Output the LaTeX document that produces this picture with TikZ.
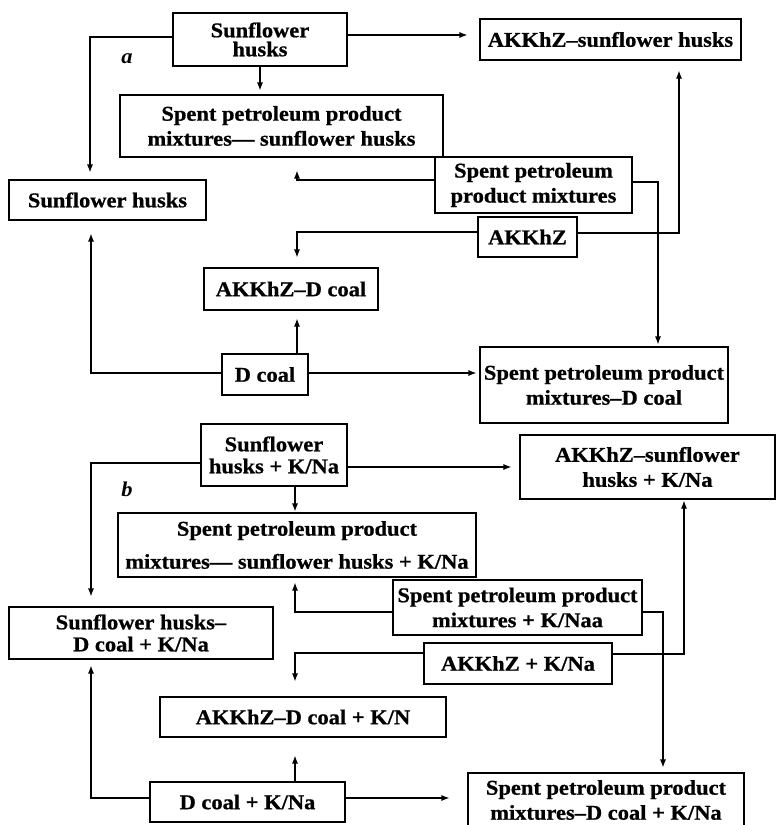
\documentclass[tikz,border=0pt]{standalone}
\usepackage{fontspec}
\setmainfont{Liberation Serif}[FakeStretch=1.07, BoldFeatures={FakeBold=0.8}]
\usetikzlibrary{arrows.meta}
\begin{document}
\begin{tikzpicture}[x=1pt,y=-1pt,
  box/.style={draw, line width=1.1pt, inner sep=0pt, align=center,
    font=\fontsize{21}{25}\selectfont\bfseries},
  tight/.style={font=\fontsize{21}{19}\selectfont\bfseries},
  mid/.style={font=\fontsize{21}{22}\selectfont\bfseries},
  loose/.style={font=\fontsize{21}{33}\selectfont\bfseries},
  arr/.style={line width=1.1pt, -{Latex[length=8pt,width=6pt]}},
  tag/.style={font=\fontsize{21}{24}\selectfont\bfseries\itshape},
]
\useasboundingbox (0,0) rectangle (779,825);

% ---------------- scheme a ----------------
\node[box, tight, minimum width=174pt, minimum height=53pt] (sh) at (260,39.5) {Sunflower\\husks};
\node[box, minimum width=261pt, minimum height=41pt] (akshusk) at (610.5,39.5) {AKKhZ–sunflower husks};
\node[box, minimum width=323pt, minimum height=62pt] (spsh) at (281.5,126) {Spent petroleum product\\mixtures— sunflower husks};
\node[box, minimum width=197pt, minimum height=40pt] (shl) at (107.5,200) {Sunflower husks};
\node[box, fill=white, minimum width=197pt, minimum height=56pt] (spm) at (533.5,185) {Spent petroleum\\product mixtures};
\node[box, minimum width=99pt, minimum height=40pt] (akk) at (527.5,237) {AKKhZ};
\node[box, minimum width=174pt, minimum height=42pt] (akd) at (291,289) {AKKhZ–D coal};
\node[box, minimum width=86pt, minimum height=41pt] (dc) at (265,374.5) {D coal};
\node[box, minimum width=248pt, minimum height=76pt] (spd) at (604,385) {Spent petroleum product\\mixtures–D coal};
\node[tag] (la) at (127,59) {a};

\coordinate (ya1) at (90,37);
\draw[arr, shorten >=7pt] (sh.west |- ya1) -- (ya1) -- (ya1 |- shl.north);
\draw[arr, shorten >=4pt] (sh.south) -- (spsh.north -| sh.south);
\coordinate (ya2) at (0,35);
\draw[arr, shorten >=12pt] (sh.east |- ya2) -- (akshusk.west |- ya2);
\coordinate (ya3) at (297,180);
\draw[arr, shorten >=13pt] (spm.west |- ya3) -- (ya3) -- (ya3 |- spsh.south);
\coordinate (ya4) at (658,182);
\draw[arr, shorten >=2pt] (spm.east |- ya4) -- (ya4) -- (ya4 |- spd.north);
\coordinate (ya5) at (679,233);
\draw[arr, shorten >=10pt] (akk.east |- ya5) -- (ya5) -- (ya5 |- akshusk.south);
\coordinate (ya6) at (297,232);
\draw[arr, shorten >=10pt] (akk.west |- ya6) -- (ya6) -- (ya6 |- akd.north);
\coordinate (ya7) at (297,0);
\draw[arr, shorten >=8pt] (ya7 |- dc.north) -- (ya7 |- akd.south);
\coordinate (ya8) at (91,373);
\draw[arr, shorten >=13pt] (dc.west |- ya8) -- (ya8) -- (ya8 |- shl.south);
\draw[arr, shorten >=3pt] (dc.east |- ya8) -- (spd.west |- ya8);

% ---------------- scheme b ----------------
\node[box, mid, minimum width=146pt, minimum height=62pt] (shk) at (274,455) {Sunflower\\husks + K/Na};
\node[box, minimum width=255pt, minimum height=64pt] (akshk) at (647.5,467) {AKKhZ–sunflower\\husks + K/Na};
\node[box, loose, minimum width=358pt, minimum height=64pt] (spshk) at (297,545) {Spent petroleum product\\mixtures— sunflower husks + K/Na};
\node[box, mid, minimum width=264pt, minimum height=52pt] (shdk) at (141,633) {Sunflower husks–\\D coal + K/Na};
\node[box, minimum width=249pt, minimum height=55pt] (spmk) at (517.5,607.5) {Spent petroleum product\\mixtures + K/Naa};
\node[box, minimum width=188pt, minimum height=41pt] (akkk) at (518,663.5) {AKKhZ + K/Na};
\node[box, minimum width=286pt, minimum height=40pt] (akdk) at (303,717) {AKKhZ–D coal + K/N};
\node[box, minimum width=195pt, minimum height=40pt] (dck) at (247.5,802) {D coal + K/Na};
\node[box, minimum width=276pt, minimum height=54pt] (spdk) at (606,800) {Spent petroleum product\\mixtures–D coal + K/Na};
\node[tag] (lb) at (127,489) {b};

\coordinate (yb1) at (91,463);
\draw[arr, shorten >=10pt] (shk.west |- yb1) -- (yb1) -- (yb1 |- shdk.north);
\coordinate (yb2) at (295,0);
\draw[arr, shorten >=1pt] (yb2 |- shk.south) -- (yb2 |- spshk.north);
\coordinate (yb3) at (0,467);
\draw[arr, shorten >=8pt] (shk.east |- yb3) -- (akshk.west |- yb3);
\coordinate (yb4) at (295,612);
\draw[arr, shorten >=5pt] (spmk.west |- yb4) -- (yb4) -- (yb4 |- spshk.south);
\coordinate (yb5) at (663,612);
\draw[arr, shorten >=5pt] (spmk.east |- yb5) -- (yb5) -- (yb5 |- spdk.north);
\coordinate (yb6) at (684,654);
\draw[arr, shorten >=1pt] (akkk.east |- yb6) -- (yb6) -- (yb6 |- akshk.south);
\coordinate (yb7) at (295,653);
\draw[arr, shorten >=15pt] (akkk.west |- yb7) -- (yb7) -- (yb7 |- akdk.north);
\draw[arr, shorten >=18pt] (yb2 |- dck.north) -- (yb2 |- akdk.south);
\coordinate (yb8) at (91,798);
\draw[arr, shorten >=6pt] (dck.west |- yb8) -- (yb8) -- (yb8 |- shdk.south);
\draw[arr, shorten >=18pt] (dck.east |- yb8) -- (spdk.west |- yb8);
\end{tikzpicture}
\end{document}
